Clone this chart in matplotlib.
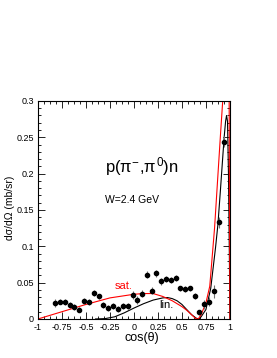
import numpy as np
import matplotlib.pyplot as plt
from matplotlib.ticker import MultipleLocator

plt.rcParams['font.family'] = ['Liberation Sans', 'DejaVu Sans']
plt.rcParams['mathtext.fontset'] = 'custom'
plt.rcParams['mathtext.rm'] = 'Liberation Sans'
plt.rcParams['mathtext.it'] = 'Liberation Sans'

# data points p(pi-,pi0)n, W=2.4 GeV
cos_th = [-0.823, -0.771, -0.719, -0.667, -0.625, -0.573, -0.521, -0.469, -0.417,
          -0.368, -0.320, -0.267, -0.215, -0.167, -0.118, -0.066, -0.014, 0.035,
          0.087, 0.132, 0.184, 0.229, 0.281, 0.333, 0.382, 0.434, 0.483, 0.531,
          0.583, 0.635, 0.680, 0.732, 0.781, 0.833, 0.882, 0.9375]
dsig = [0.022, 0.024, 0.023, 0.019, 0.016, 0.013, 0.025, 0.023, 0.036,
        0.031, 0.019, 0.015, 0.018, 0.014, 0.018, 0.018, 0.033, 0.026,
        0.035, 0.061, 0.039, 0.063, 0.052, 0.055, 0.054, 0.056, 0.042, 0.041,
        0.042, 0.032, 0.009, 0.020, 0.024, 0.038, 0.133, 0.244]
err = [0.005, 0.004, 0.004, 0.004, 0.004, 0.004, 0.004, 0.004, 0.004,
       0.004, 0.004, 0.004, 0.004, 0.004, 0.004, 0.004, 0.005, 0.005,
       0.005, 0.005, 0.005, 0.005, 0.005, 0.004, 0.004, 0.004, 0.004, 0.004,
       0.004, 0.004, 0.004, 0.006, 0.006, 0.009, 0.008, 0.008]

# model curves
sat_x = [-1.0, -0.75, -0.5, -0.25, 0.0, 0.1, 0.2, 0.3, 0.4, 0.5, 0.55, 0.6,
         0.64, 0.67, 0.7, 0.75, 0.79, 0.84, 0.9, 0.925, 0.95, 0.975, 0.99, 1.0]
sat_y = [0.0, 0.010, 0.020, 0.029, 0.034, 0.035, 0.035, 0.031, 0.025, 0.017,
         0.012, 0.006, 0.001, 0.0, 0.006, 0.022, 0.045, 0.125, 0.25, 0.30,
         0.36, 0.40, 0.38, 0.0]
lin_x = [-0.4, -0.3, -0.2, -0.1, 0.0, 0.1, 0.2, 0.3, 0.35, 0.4, 0.45, 0.5,
         0.55, 0.6, 0.65, 0.68, 0.7, 0.75, 0.8, 0.85, 0.875, 0.9, 0.925, 0.94,
         0.955, 0.965, 0.975, 0.985, 0.995, 1.0]
lin_y = [0.0, 0.0005, 0.003, 0.0085, 0.015, 0.021, 0.026, 0.029, 0.0295, 0.028,
         0.025, 0.020, 0.013, 0.006, 0.001, 0.0, 0.003, 0.013, 0.042, 0.098,
         0.13, 0.175, 0.222, 0.25, 0.272, 0.28, 0.272, 0.2, 0.08, 0.0]

fig = plt.figure(figsize=(2.77, 3.58), dpi=100)
ax = fig.add_axes([0.137, 0.109, 0.693, 0.609])

ax.plot(lin_x, lin_y, color='black', lw=0.8)
ax.plot(sat_x, sat_y, color='red', lw=0.8)
ax.errorbar(cos_th, dsig, yerr=err, fmt='o', color='black', ms=3,
            ecolor='0.45', elinewidth=0.8, capsize=0)

ax.set_xlim(-1, 1)
ax.set_ylim(0, 0.3)
ax.xaxis.set_minor_locator(MultipleLocator(0.0625))
ax.yaxis.set_minor_locator(MultipleLocator(0.01))
ax.set_xticks([-1, -0.75, -0.5, -0.25, 0, 0.25, 0.5, 0.75, 1])
ax.set_xticklabels(['-1', '-0.75', '-0.5', '-0.25', '0', '0.25', '0.5', '0.75', '1'])
ax.set_yticks([0, 0.05, 0.1, 0.15, 0.2, 0.25, 0.3])
ax.set_yticklabels(['0', '0.05', '0.1', '0.15', '0.2', '0.25', '0.3'])
ax.tick_params(which='both', direction='in', top=True, right=True,
               labelsize=6.5, width=0.6, pad=3)
ax.tick_params(which='major', length=5)
ax.tick_params(which='minor', length=2.5)
for s in ax.spines.values():
    s.set_linewidth(0.8)

ax.set_xlabel('cos(θ)', fontsize=9)
ax.xaxis.set_label_coords(0.54, -0.062)
ax.text(-0.145, 0.51, 'dσ/dΩ (mb/sr)', fontsize=7.5, rotation=90,
        rotation_mode='anchor', ha='center', va='center', transform=ax.transAxes)

ax.text(-0.30, 0.21, r'p($\pi^{-}$,$\pi^{0}$)n', fontsize=12,
        va='center', ha='left')
ax.text(-0.30, 0.164, 'W=2.4 GeV', fontsize=7.5, va='center', ha='left')
ax.text(-0.20, 0.045, 'sat.', fontsize=8, color='red', va='center', ha='left')
ax.text(0.26, 0.019, 'lin.', fontsize=8, color='black', va='center', ha='left')

plt.savefig('out.png', dpi=100)
